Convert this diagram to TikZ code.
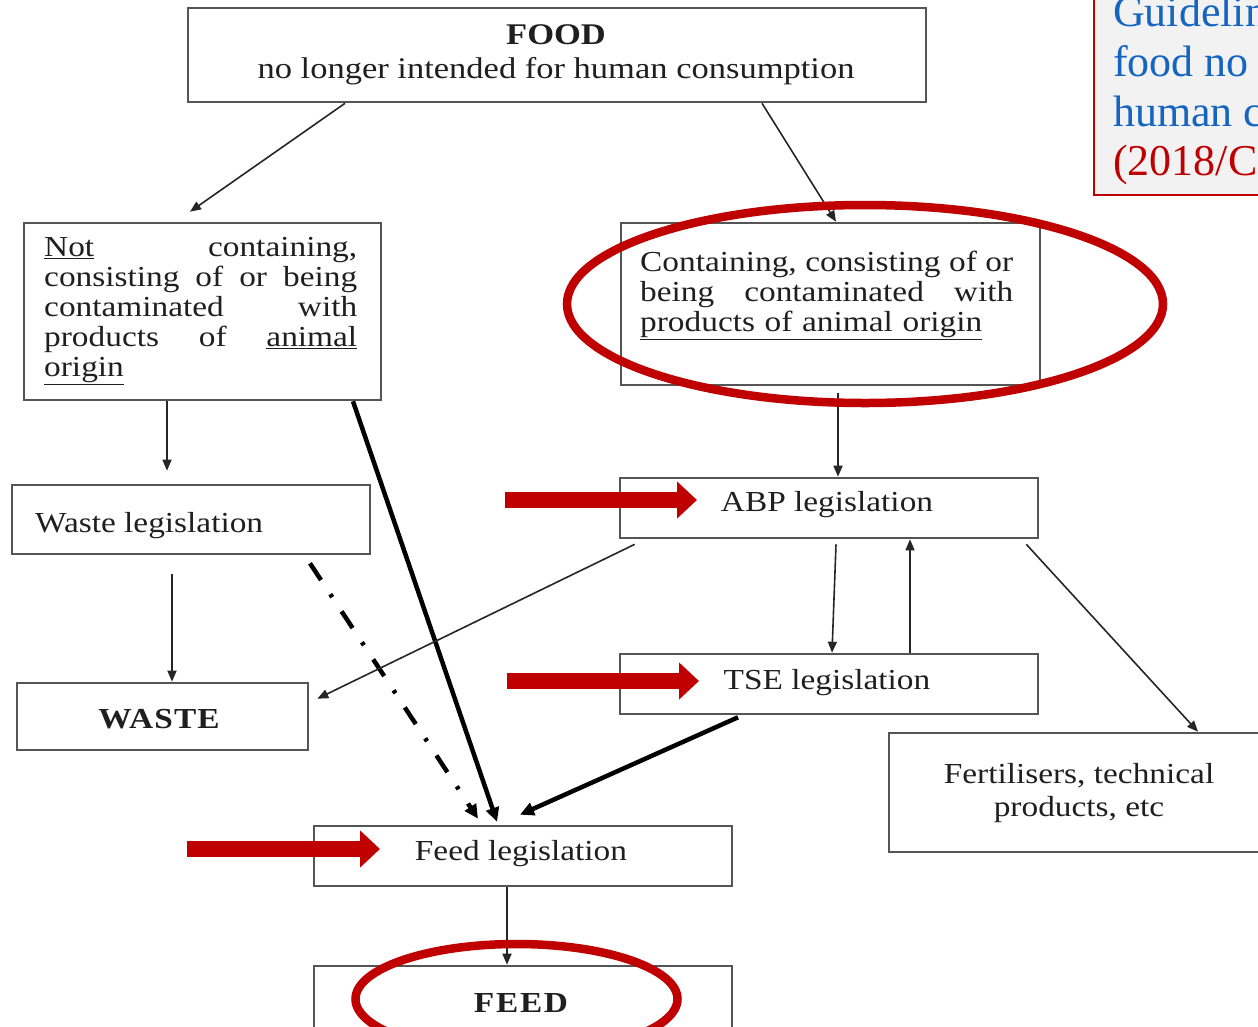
\documentclass[tikz,border=0pt]{standalone}
\usepackage{fontspec}
\setmainfont{Liberation Serif}[FakeStretch=1.15]
\newfontfamily\gfont{Liberation Serif}
\usetikzlibrary{arrows.meta}
\definecolor{boxgray}{RGB}{85,85,85}
\definecolor{ared}{RGB}{192,0,0}
\definecolor{gblue}{RGB}{21,101,192}
\definecolor{gfill}{RGB}{242,242,242}
\newcommand{\jline}[2]{\leavevmode\hbox to #1{#2}}
\begin{document}
\begin{tikzpicture}[x=1pt,y=-1pt,
  box/.style={draw=boxgray, line width=2.6pt, inner sep=0pt, fill=white},
  tx/.style={font=\fontsize{29}{30}\selectfont, inner sep=0pt, text=black!88},
  con/.style={draw=black!85, line width=1.6pt, -{Triangle[length=11pt,width=9pt]}},
  heavy/.style={draw=black, line width=4.5pt, -{Triangle[length=14pt,width=13pt]}},
  dashdot/.style={heavy, dash pattern=on 20pt off 17pt on 3.5pt off 17pt},
  redarrow/.style={draw=ared, line width=16pt, -{Triangle[length=20pt,width=36pt]}},
  redring/.style={draw=ared, line width=8.5pt},
  gtext/.style={font=\gfont\fontsize{44}{50}\selectfont, inner sep=0pt, anchor=base west},
]
\useasboundingbox (0,0) rectangle (1258,1026);
\clip (0,0) rectangle (1258,1026);
\fill[white] (0,0) rectangle (1258,1026);

% boxes
\node[box, minimum width=738pt, minimum height=94pt] (food) at (557,55) {};
\node[box, minimum width=357pt, minimum height=177pt] (L) at (202.5,311.5) {};
\node[box, minimum width=419pt, minimum height=162pt] (R) at (830.5,304) {};
\node[box, minimum width=358pt, minimum height=69pt] (wl) at (191,519.5) {};
\node[box, minimum width=291pt, minimum height=67pt] (wst) at (162.5,716.5) {};
\node[box, minimum width=418pt, minimum height=60pt] (abp) at (829,508) {};
\node[box, minimum width=418pt, minimum height=60pt] (tse) at (829,684) {};
\node[box, minimum width=381pt, minimum height=119pt] (fert) at (1079.5,792.5) {};
\node[box, minimum width=418pt, minimum height=60pt] (fl) at (523,856) {};
\node[box, minimum width=418pt, minimum height=70pt] (fd) at (523,1001) {};

% texts
\node[tx, font=\fontsize{30}{34}\selectfont, align=center, anchor=north] (foodt) at (556,24)
  {\textbf{FOOD}\\no longer intended for human consumption};
\node[tx, align=left, text width=313pt, anchor=north west] (Lt) at (44,237)
  {\jline{313pt}{\underline{Not}\hfill containing,}\\
   \jline{313pt}{consisting\hfill of\hfill or\hfill being}\\
   \jline{313pt}{contaminated\hfill with}\\
   \jline{313pt}{products\hfill of\hfill \underline{animal}}\\
   \underline{origin}};
\node[tx, align=left, text width=373pt, anchor=north west] (Rt) at (640,250.5)
  {\jline{373pt}{Containing,\hfill consisting\hfill of\hfill or}\\
   \jline{373pt}{being\hfill contaminated\hfill with}\\
   \underline{products of animal origin}};
\node[tx, anchor=base west] (wlt) at (35,532) {Waste legislation};
\node[tx, anchor=base, font=\fontsize{29}{30}\selectfont\bfseries\addfontfeature{LetterSpace=4}] (wstt) at (159,728) {WASTE};
\node[tx, anchor=base] (abpt) at (827,511) {ABP legislation};
\node[tx, anchor=base] (tset) at (827,689) {TSE legislation};
\node[tx, anchor=base] (flt) at (521,860) {Feed legislation};
\node[tx, anchor=base, font=\fontsize{29}{30}\selectfont\bfseries\addfontfeature{LetterSpace=6}] (fdt) at (521,1012) {FEED};
\node[tx, font=\fontsize{29}{33}\selectfont, align=center, anchor=north] (fertt) at (1079,763)
  {Fertilisers, technical\\products, etc};

% connectors
\draw[con] ([xshift=-212pt]food.south) -- ([xshift=-12.5pt,yshift=10pt]L.north);
\draw[con] ([xshift=205pt]food.south) -- ([xshift=5.5pt]R.north);
\draw[con] ([xshift=-35.5pt]L.south) -- ([xshift=-24pt,yshift=13pt]wl.north);
\draw[con] ([xshift=-19pt,yshift=-19pt]wl.south) -- ([xshift=9.5pt]wst.north);
\draw[heavy] ([xshift=150.5pt]L.south) -- ([xshift=-26pt,yshift=3pt]fl.north);
\draw[dashdot] ([xshift=119pt,yshift=-8pt]wl.south) -- ([xshift=-45pt,yshift=6pt]fl.north);
\draw[con] ([xshift=7.5pt,yshift=-7pt]R.south) -- ([xshift=9pt]abp.north);
\draw[con] ([xshift=16pt,yshift=-5pt]abp.south west) -- ([xshift=8pt,yshift=-17pt]wst.north east);
\draw[con] ([xshift=7pt,yshift=-5pt]abp.south) -- ([xshift=3pt]tse.north);
\draw[con] ([xshift=81pt]tse.north) -- ([xshift=81pt]abp.south);
\draw[con] ([xshift=-13pt,yshift=-5pt]abp.south east) -- ([xshift=118.5pt]fert.north);
\draw[heavy] ([xshift=-91pt,yshift=-2pt]tse.south) -- ([xshift=-3pt,yshift=10pt]fl.north);
\draw[con] ([xshift=-16pt]fl.south) -- ([xshift=-16pt]fd.north);

% guideline box (top right)
\node[draw=ared, fill=gfill, line width=2pt, inner sep=0pt, minimum width=200pt,
      minimum height=220pt, anchor=south west] (gbox) at (1093,196) {};
\node[gtext, text=gblue] (g1) at (1113,26) {Guidelines for the feed use of};
\node[gtext, text=gblue] (g2) at (1113,76) {food no longer intended for};
\node[gtext, text=gblue] (g3) at (1113,126) {human consumption};
\node[gtext, text=ared] (g4) at (1113,175) {(2018/C133/02)};

% red annotation arrows
\coordinate (ra1s) at (505,500); \coordinate (ra1e) at (697,500);
\coordinate (ra2s) at (507,681); \coordinate (ra2e) at (699,681);
\coordinate (ra3s) at (187,849); \coordinate (ra3e) at (380,849);
\draw[redarrow] (ra1s) -- (ra1e);
\draw[redarrow] (ra2s) -- (ra2e);
\draw[redarrow] (ra3s) -- (ra3e);

% red rings
\draw[redring] (865,304) ellipse [x radius=298, y radius=99];
\draw[redring] (516.5,999) ellipse [x radius=161, y radius=55];
\end{tikzpicture}
\end{document}
